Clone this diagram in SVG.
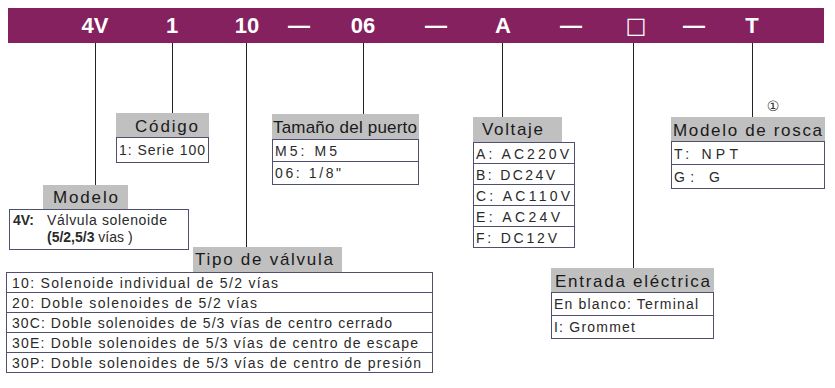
<svg xmlns="http://www.w3.org/2000/svg" width="835" height="388" viewBox="0 0 835 388">
<style>
.bar{fill:#85215f}
.bt{font-family:"Liberation Sans",Arial,sans-serif;font-weight:bold;font-size:22px;fill:#ffffff;text-anchor:middle}
.hd{fill:#c0c0c0}
.ht{font-family:"Liberation Sans",Arial,sans-serif;font-size:17px;fill:#1a1a1a}
.bx{fill:#ffffff;stroke:#4f5070;stroke-width:1}
.rt{font-family:"Liberation Sans",Arial,sans-serif;font-size:14px;fill:#2a2a2a}
.ln{stroke:#222222;stroke-width:1;fill:none}
</style>
<rect width="835" height="388" fill="#ffffff"/>
<g id="code-bar">
<rect class="bar" x="8" y="8" width="816" height="35"/>
<text class="bt" x="95" y="33">4V</text>
<text class="bt" x="172" y="33">1</text>
<text class="bt" x="247" y="33">10</text>
<text class="bt" x="299" y="33">—</text>
<text class="bt" x="363" y="33">06</text>
<text class="bt" x="436" y="33">—</text>
<text class="bt" x="503" y="33">A</text>
<text class="bt" x="571" y="33">—</text>
<text class="bt" x="636" y="33" style="font-family:'DejaVu Sans',sans-serif;font-weight:normal">□</text>
<text class="bt" x="694" y="33">—</text>
<text class="bt" x="752" y="33">T</text>
</g>
<g id="connectors">
<line class="ln" x1="95.5" y1="43" x2="95.5" y2="185"/>
<line class="ln" x1="172.5" y1="43" x2="172.5" y2="113"/>
<line class="ln" x1="246.5" y1="43" x2="246.5" y2="247"/>
<line class="ln" x1="363.5" y1="43" x2="363.5" y2="114"/>
<line class="ln" x1="502.5" y1="43" x2="502.5" y2="117"/>
<line class="ln" x1="633.5" y1="43" x2="633.5" y2="268"/>
<line class="ln" x1="752.5" y1="43" x2="752.5" y2="117"/>
</g>
<g id="modelo">
<rect class="hd" x="43" y="185" width="85" height="24"/>
<text class="ht" x="53" y="203" textLength="65" lengthAdjust="spacing">Modelo</text>
<rect class="bx" x="9.5" y="209.5" width="179" height="40"/>
<text class="rt" x="13" y="225"><tspan font-weight="bold">4V:</tspan></text>
<text class="rt" x="47" y="225" textLength="120" lengthAdjust="spacing">Válvula solenoide</text>
<text class="rt" x="47" y="242"><tspan font-weight="bold">(5/2,5/3</tspan> vías )</text>
</g>
<g id="codigo">
<rect class="hd" x="116" y="113" width="93" height="24"/>
<text class="ht" x="135" y="132" textLength="63" lengthAdjust="spacing">Código</text>
<rect class="bx" x="116.5" y="137.5" width="92" height="25"/>
<text class="rt" x="119" y="155" textLength="86" lengthAdjust="spacing">1:  Serie 100</text>
</g>
<g id="tamano">
<rect class="hd" x="272" y="114" width="147" height="25"/>
<text class="ht" x="273" y="133" textLength="144" lengthAdjust="spacing">Tamaño del puerto</text>
<rect class="bx" x="272.5" y="139.5" width="146" height="45"/>
<line class="bx" x1="272.5" y1="161.5" x2="418.5" y2="161.5"/>
<text class="rt" x="275" y="156" textLength="62" lengthAdjust="spacing">M5:  M5</text>
<text class="rt" x="275" y="178" textLength="66" lengthAdjust="spacing">06:  1/8&quot;</text>
</g>
<g id="voltaje">
<rect class="hd" x="473" y="117" width="89" height="25"/>
<text class="ht" x="482" y="135" textLength="61" lengthAdjust="spacing">Voltaje</text>
<rect class="bx" x="473.5" y="142.5" width="101" height="105"/>
<line class="bx" x1="473.5" y1="163.5" x2="574.5" y2="163.5"/>
<line class="bx" x1="473.5" y1="184.5" x2="574.5" y2="184.5"/>
<line class="bx" x1="473.5" y1="205.5" x2="574.5" y2="205.5"/>
<line class="bx" x1="473.5" y1="226.5" x2="574.5" y2="226.5"/>
<text class="rt" x="476" y="159" textLength="93" lengthAdjust="spacing">A:  AC220V</text>
<text class="rt" x="476" y="180" textLength="79" lengthAdjust="spacing">B:  DC24V</text>
<text class="rt" x="476" y="201" textLength="94" lengthAdjust="spacing">C:  AC110V</text>
<text class="rt" x="476" y="222" textLength="84" lengthAdjust="spacing">E:  AC24V</text>
<text class="rt" x="476" y="243" textLength="81" lengthAdjust="spacing">F:  DC12V</text>
</g>
<g id="rosca">
<text x="773" y="111" style="font-family:'DejaVu Sans',sans-serif;font-size:14px;fill:#333333;text-anchor:middle">①</text>
<rect class="hd" x="671" y="117" width="154" height="24"/>
<text class="ht" x="673" y="136" textLength="149" lengthAdjust="spacing">Modelo de rosca</text>
<rect class="bx" x="671.5" y="141.5" width="153" height="47"/>
<line class="bx" x1="671.5" y1="164.5" x2="824.5" y2="164.5"/>
<text class="rt" x="674" y="159" textLength="64" lengthAdjust="spacing">T:  NPT</text>
<text class="rt" x="674" y="182" textLength="46" lengthAdjust="spacing">G:  G</text>
</g>
<g id="tipo">
<rect class="hd" x="193" y="247" width="149" height="25"/>
<text class="ht" x="195" y="265" textLength="138" lengthAdjust="spacing">Tipo de válvula</text>
<rect class="bx" x="6.5" y="272.5" width="426" height="100"/>
<line class="bx" x1="6.5" y1="292.5" x2="432.5" y2="292.5"/>
<line class="bx" x1="6.5" y1="312.5" x2="432.5" y2="312.5"/>
<line class="bx" x1="6.5" y1="332.5" x2="432.5" y2="332.5"/>
<line class="bx" x1="6.5" y1="352.5" x2="432.5" y2="352.5"/>
<text class="rt" x="12" y="288" textLength="266" lengthAdjust="spacing">10: Solenoide individual de 5/2 vías</text>
<text class="rt" x="12" y="308" textLength="245" lengthAdjust="spacing">20: Doble solenoides de 5/2 vías</text>
<text class="rt" x="12" y="328" textLength="380" lengthAdjust="spacing">30C: Doble solenoides de 5/3 vías de centro cerrado</text>
<text class="rt" x="12" y="348" textLength="406" lengthAdjust="spacing">30E: Doble solenoides de 5/3 vías de centro de escape</text>
<text class="rt" x="12" y="368" textLength="409" lengthAdjust="spacing">30P: Doble solenoides de 5/3 vías de centro de presión</text>
</g>
<g id="entrada">
<rect class="hd" x="551" y="268" width="163" height="24"/>
<text class="ht" x="555" y="287" textLength="155" lengthAdjust="spacing">Entrada eléctrica</text>
<rect class="bx" x="551.5" y="292.5" width="162" height="46"/>
<line class="bx" x1="551.5" y1="315.5" x2="713.5" y2="315.5"/>
<text class="rt" x="554" y="309" textLength="144" lengthAdjust="spacing">En blanco: Terminal</text>
<text class="rt" x="554" y="332" textLength="81" lengthAdjust="spacing">I: Grommet</text>
</g>
</svg>
